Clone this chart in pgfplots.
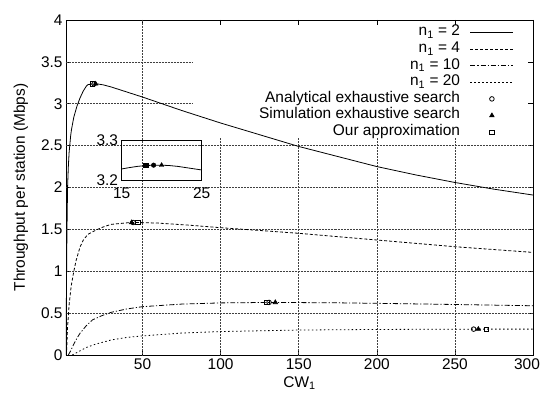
\documentclass[border=0pt]{standalone}
\usepackage{fontspec}
\setmainfont{Liberation Sans}
\usepackage{pgfplots}
\pgfplotsset{compat=1.18}
\pgfplotsset{
  linelegend/.style={legend image code/.code={\draw[##1] (0bp,0bp) -- (43bp,0bp);}},
  marklegend/.style={legend image code/.code={\draw[##1] plot coordinates {(21.5bp,0bp)};}},
}
\tikzset{gridline/.style={densely dotted, black!75, line width=0.5pt}}
\newcommand\f{\fontsize{15.5}{18}\selectfont}
\begin{document}
\begin{tikzpicture}
\begin{axis}[name=main, scale only axis, width=467bp, height=335bp,
  xmin=1, xmax=300, ymin=0, ymax=4,
  xtick={50,100,150,200,250,300}, ytick={0,0.5,1,1.5,2,2.5,3,3.5,4},
  xticklabels={50,100,150,200,250,{\hspace*{-12bp}300}},
  tick align=inside, major tick length=5bp, tick style={black, line width=0.6pt},
  axis line style={line width=0.8pt},
  tick label style={font=\f}, /pgf/number format/assume math mode=true,
  label style={font=\f},
  xlabel={CW\textsubscript{1}}, ylabel={Throughput per station (Mbps)},
  ylabel style={yshift=6bp},
  legend plot pos=right, legend cell align=right,
  legend style={at={(rel axis cs:1,1)}, anchor=north east, xshift=-19bp, yshift=-4bp,
    draw=none, fill=none, inner sep=0pt, row sep=0pt, column sep=10bp,
    nodes={inner sep=0pt, text height=11.8bp, text depth=4.8bp, font=\f}},
  ]
% grid (hidden behind the key, as in the reference)
\draw[gridline] (axis cs:50,0) -- (axis cs:50,4);
\pgfplotsinvokeforeach{100,150,200,250}{\draw[gridline] (axis cs:#1,0) -- (axis cs:#1,2.604);}
\pgfplotsinvokeforeach{0.5,1,1.5,2,2.5}{\draw[gridline] (axis cs:1,#1) -- (axis cs:300,#1);}
\pgfplotsinvokeforeach{3,3.5}{\draw[gridline] (axis cs:1,#1) -- (axis cs:81.7,#1);}
\coordinate (ins) at (axis cs:36.6,2.09);
\addplot[black, line width=0.8pt, linelegend] coordinates {
(1,0) (1.3,0.8) (1.6,1.45) (2,2.0) (2.5,2.25) (3,2.42) (4,2.62) (4.5,2.69) (6,2.84) (8,2.97) (10,3.07) (12,3.15) (14,3.21) (15,3.2275) (16,3.231) (17,3.234) (18,3.236) (19,3.237) (20,3.237) (21,3.236) (22,3.234) (23,3.231) (25,3.225) (30,3.2) (40,3.14) (50,3.08) (75,2.92) (100,2.77) (125,2.63) (150,2.49) (175,2.37) (200,2.25) (225,2.15) (250,2.06) (275,1.98) (300,1.91)};
\addlegendentry{n\textsubscript{1} = 2}
\addplot[black, line width=0.8pt, dash pattern=on 3pt off 2pt, linelegend] coordinates {
(1.3,0) (2,0.33) (3,0.6) (4.3,0.82) (6,1.0) (7.5,1.13) (10,1.29) (12,1.37) (15,1.44) (20,1.49) (25,1.53) (30,1.56) (40,1.578) (47,1.582) (60,1.575) (80,1.55) (100,1.52) (125,1.487) (150,1.453) (175,1.413) (200,1.373) (250,1.293) (300,1.225)};
\addlegendentry{n\textsubscript{1} = 4}
\addplot[black, line width=0.8pt, dash pattern=on 5pt off 2pt on 1.2pt off 2pt, linelegend] coordinates {
(2.5,0) (4,0.05) (6,0.13) (8,0.2) (10,0.26) (14,0.35) (18,0.42) (24,0.47) (30,0.51) (40,0.55) (50,0.577) (75,0.608) (100,0.622) (133,0.628) (175,0.623) (200,0.617) (250,0.603) (300,0.588)};
\addlegendentry{n\textsubscript{1} = 10}
\addplot[black, line width=0.8pt, dash pattern=on 1.5pt off 2.5pt, linelegend] coordinates {
(5,0) (6,0.01) (8,0.03) (10,0.05) (14,0.09) (20,0.13) (30,0.18) (40,0.21) (50,0.228) (75,0.262) (100,0.28) (150,0.298) (200,0.305) (265,0.309) (300,0.309)};
\addlegendentry{n\textsubscript{1} = 20}
\addplot[only marks, black, mark=o, mark size=2.3bp, line width=0.8pt, marklegend] coordinates {
(19,3.237) (44,1.582) (131,0.628) (262,0.309)};
\addlegendentry{Analytical exhaustive search}
\addplot[only marks, black, mark=triangle*, mark size=2.6bp, line width=0.6pt, marklegend] coordinates {
(20,3.237) (43,1.582) (135,0.628) (265,0.309)};
\addlegendentry{Simulation exhaustive search}
\addplot[only marks, black, mark=square, mark size=2.2bp, line width=0.8pt, marklegend] coordinates {
(18,3.237) (47,1.582) (129.5,0.628) (270,0.309)};
\addlegendentry{Our approximation}
\end{axis}
\begin{axis}[at={(ins)}, anchor=south west, scale only axis, width=80bp, height=40bp,
  xmin=15, xmax=25, ymin=3.2, ymax=3.3, xtick={15,25}, ytick={3.2,3.3},
  major tick length=0pt, tick label style={font=\f}, /pgf/number format/assume math mode=true,
  xticklabel style={yshift=-4bp},
  yticklabel style={/pgf/number format/fixed, /pgf/number format/precision=1, /pgf/number format/fixed zerofill},
  axis line style={line width=0.8pt}]
\addplot[black, line width=0.8pt] coordinates {
(15,3.2275) (16,3.231) (17,3.234) (18,3.236) (19,3.237) (20,3.237) (21,3.236) (22,3.234) (23,3.231) (24,3.228) (25,3.225)};
\addplot[only marks, black, mark=square*, mark size=2.2bp] coordinates {(18,3.237)};
\addplot[only marks, black, mark=*, mark size=2.3bp] coordinates {(19,3.237)};
\addplot[only marks, black, mark=triangle*, mark size=2.6bp] coordinates {(20,3.237)};
\end{axis}
\pgfresetboundingbox
\path[use as bounding box] (main.south west) ++(-66bp,-44bp) rectangle ++(542bp,399bp);
\end{tikzpicture}
\end{document}
